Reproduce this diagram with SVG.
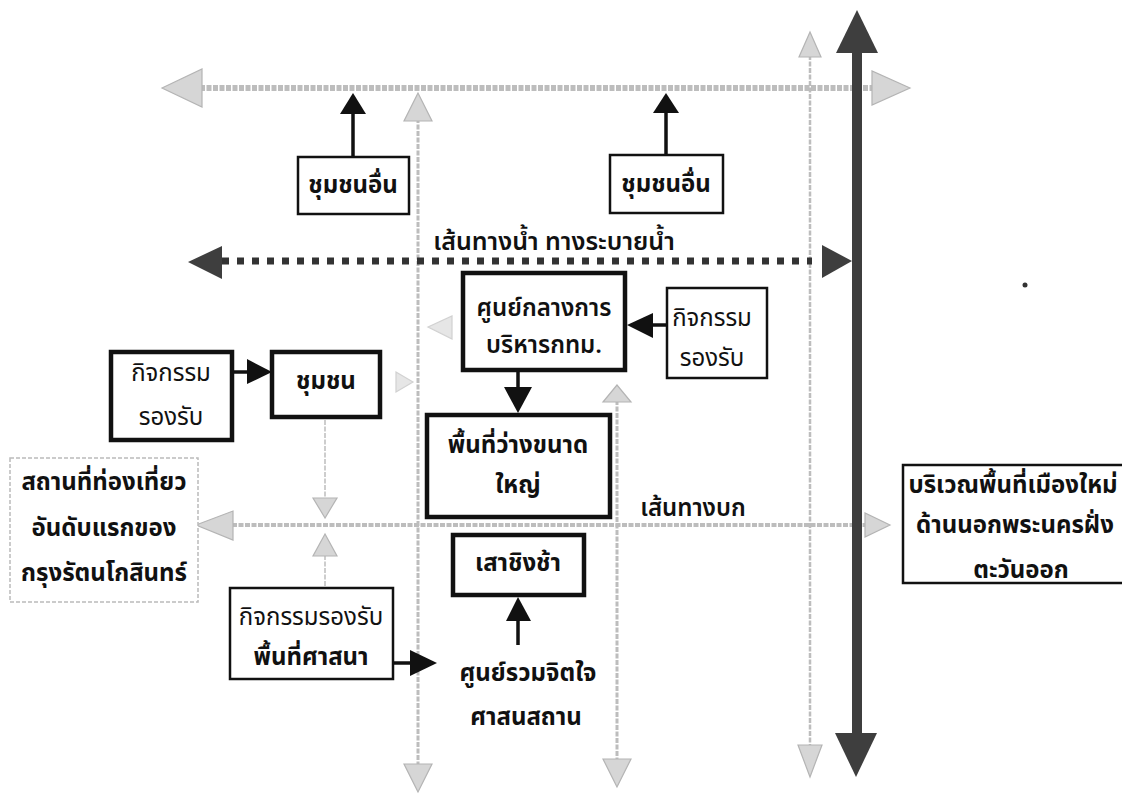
<svg xmlns="http://www.w3.org/2000/svg" width="1122" height="795" viewBox="0 0 1122 795">
<defs>
<style>
text{font-family:"Noto Sans Thai","Noto Sans","Liberation Sans",sans-serif;font-size:24px;fill:#111;text-anchor:middle}
.b{font-weight:700}
.box{fill:#fff;stroke:#111;stroke-width:2.5}
.tbox{fill:#fff;stroke:#111;stroke-width:4.5}
.gbox{fill:#fff;stroke:#bbb;stroke-width:1.5;stroke-dasharray:4 2}
.gl{stroke:#bdbdbd;fill:none;stroke-dasharray:5 1.5}
.gh{fill:#d6d6d6;stroke:#b4b4b4;stroke-width:1.2}
.bl{stroke:#111;stroke-width:3.5;fill:none}
.bh{fill:#111}
.dk{fill:#3e3e3e}
</style>
</defs>
<rect width="1122" height="795" fill="#fff"/>
<g id="connectors">
<line class="gl" x1="200" y1="88" x2="874" y2="88" stroke-width="6"/>
<polygon class="gh" points="162,88 202,69 202,107"/>
<polygon class="gh" points="910,88 872,71 872,105"/>
<line class="gl" x1="418" y1="118" x2="418" y2="765" stroke-width="3"/>
<polygon class="gh" points="418,93 404,121 432,121"/>
<polygon class="gh" points="418,792 404,764 432,764"/>
<line class="gl" x1="617" y1="400" x2="617" y2="760" stroke-width="3"/>
<polygon class="gh" points="617,385 603,402 631,402"/>
<polygon class="gh" points="617,787 603,759 631,759"/>
<line class="gl" x1="810" y1="55" x2="810" y2="745" stroke-width="2.5"/>
<polygon class="gh" points="810,32 799,57 821,57"/>
<polygon class="gh" points="810,777 798,745 822,745"/>
<line class="gl" x1="232" y1="525" x2="866" y2="525" stroke-width="4"/>
<polygon class="gh" points="196,525 233,511 233,540"/>
<polygon class="gh" points="890,525 865,513 865,537"/>
<line class="gl" x1="325" y1="420" x2="325" y2="500" stroke-width="1.5"/>
<polygon class="gh" points="325,518 313,498 337,498"/>
<line class="gl" x1="325" y1="555" x2="325" y2="588" stroke-width="1.5"/>
<polygon class="gh" points="325,534 313,556 337,556"/>
<polygon class="gh" points="413,382 396,372 396,392" opacity="0.6"/>
<polygon class="gh" points="428,327 452,316 452,339" opacity="0.6"/>
<rect class="dk" x="852" y="50" width="10" height="686"/>
<polygon class="dk" points="857,10 836,53 878,53"/>
<polygon class="dk" points="856,777 835,733 877,733"/>
<line x1="222" y1="261" x2="812" y2="261" stroke="#333" stroke-width="7" stroke-dasharray="7 8"/>
<polygon class="dk" points="188,262 222,246 222,279"/>
<polygon class="dk" points="852,261 822,245 822,278"/>
<line class="bl" x1="353" y1="157" x2="353" y2="112"/>
<polygon class="bh" points="353,93 340,114 366,114"/>
<line class="bl" x1="666" y1="155" x2="666" y2="111"/>
<polygon class="bh" points="666,93 653,113 679,113"/>
<line class="bl" x1="667" y1="325" x2="650" y2="325"/>
<polygon class="bh" points="627,325 653,313 653,338"/>
<line class="bl" x1="518" y1="370" x2="518" y2="390"/>
<polygon class="bh" points="518,413 504,387 532,387"/>
<line class="bl" x1="232" y1="372" x2="250" y2="372"/>
<polygon class="bh" points="272,372 247,359 247,384"/>
<line class="bl" x1="518" y1="645" x2="518" y2="617"/>
<polygon class="bh" points="518,597 506,621 531,621"/>
<line class="bl" x1="393" y1="663" x2="412" y2="663"/>
<polygon class="bh" points="437,663 410,650 410,676"/>
</g>
<circle cx="1025" cy="285" r="2.5" fill="#333"/>
<g id="n-other-left">
<rect class="box" x="298" y="157" width="111" height="57"/>
<text class="b" x="353" y="193">ชุมชนอื่น</text>
</g>
<g id="n-other-right">
<rect class="box" x="610" y="155" width="113" height="58"/>
<text class="b" x="666" y="192">ชุมชนอื่น</text>
</g>
<g id="l-water">
<text x="554" y="250" style="font-weight:600;font-size:25px">เส้นทางน้ำ ทางระบายน้ำ</text>
</g>
<g id="n-bma">
<rect class="tbox" x="463" y="273" width="162" height="97"/>
<text x="544" y="316" style="font-weight:600">ศูนย์กลางการ</text>
<text x="544" y="353" style="font-weight:600">บริหารกทม.</text>
</g>
<g id="n-act-right">
<rect class="box" x="667" y="288" width="100" height="90"/>
<text x="712" y="326">กิจกรรม</text>
<text x="712" y="366">รองรับ</text>
</g>
<g id="n-act-left">
<rect class="tbox" x="111" y="352" width="121" height="88"/>
<text x="171" y="381">กิจกรรม</text>
<text x="171" y="425">รองรับ</text>
</g>
<g id="n-community">
<rect class="tbox" x="272" y="352" width="108" height="65"/>
<text class="b" x="326" y="389">ชุมชน</text>
</g>
<g id="n-openspace">
<rect class="tbox" x="427" y="415" width="183" height="102"/>
<text class="b" x="518" y="453">พื้นที่ว่างขนาด</text>
<text class="b" x="518" y="493">ใหญ่</text>
</g>
<g id="l-road">
<text x="693" y="516" style="font-weight:600">เส้นทางบก</text>
</g>
<g id="n-swing">
<rect class="tbox" x="453" y="535" width="131" height="60"/>
<text class="b" x="518" y="571">เสาชิงช้า</text>
</g>
<g id="n-religious">
<text class="b" x="528" y="681">ศูนย์รวมจิตใจ</text>
<text class="b" x="526" y="725">ศาสนสถาน</text>
</g>
<g id="n-act-religion">
<rect class="box" x="230" y="588" width="163" height="91"/>
<text x="311" y="625">กิจกรรมรองรับ</text>
<text class="b" x="311" y="665">พื้นที่ศาสนา</text>
</g>
<g id="n-tourist">
<rect class="gbox" x="10" y="458" width="188" height="144"/>
<text class="b" x="104" y="490">สถานที่ท่องเที่ยว</text>
<text class="b" x="104" y="536">อันดับแรกของ</text>
<text class="b" x="104" y="581">กรุงรัตนโกสินทร์</text>
</g>
<g id="n-newcity">
<rect class="box" x="903" y="465" width="230" height="118"/>
<text class="b" x="1013" y="493">บริเวณพื้นที่เมืองใหม่</text>
<text class="b" x="1015" y="533">ด้านนอกพระนครฝั่ง</text>
<text class="b" x="1021" y="578">ตะวันออก</text>
</g>
</svg>
